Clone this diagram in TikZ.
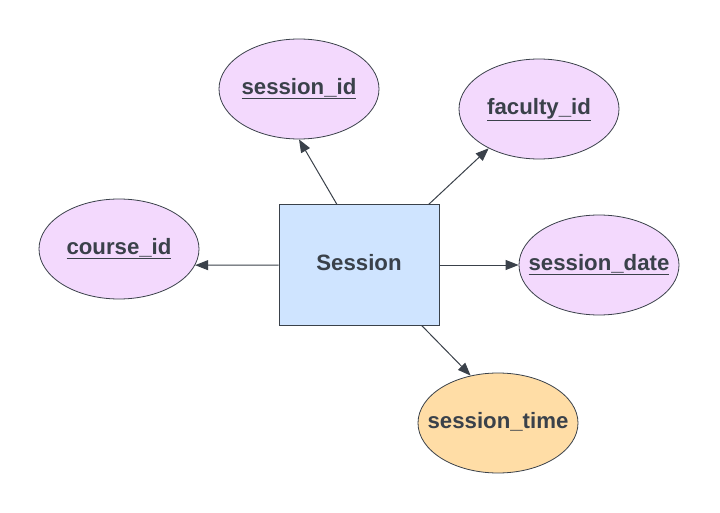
\documentclass[tikz,border=0pt]{standalone}
\usepackage{fontspec}
\setmainfont{Liberation Sans}
\usetikzlibrary{arrows.meta, shapes.geometric}

\definecolor{inkgray}{HTML}{3A414A}
\definecolor{attrpurple}{HTML}{F3D9FD}
\definecolor{entityblue}{HTML}{CFE4FF}
\definecolor{attrorange}{HTML}{FFDDA6}

% keep the ellipse at its fixed size whatever the label width
\newcommand{\attrtext}[1]{\makebox[0pt]{#1}}

\begin{document}
\begin{tikzpicture}[x=1bp, y=-1bp,
  every node/.style={text=inkgray, text depth=6bp,
    font=\fontsize{22.3}{26}\selectfont\bfseries},
  entity/.style={draw=inkgray, fill=entityblue, line width=1bp,
    minimum width=160bp, minimum height=120bp, inner sep=0pt},
  attr/.style={ellipse, draw=inkgray, fill=attrpurple, line width=0.8bp,
    minimum width=160bp, minimum height=100bp, inner sep=0pt},
  link/.style={draw=inkgray, line width=1bp, -{Triangle[length=13bp, width=10bp]}}]
  \useasboundingbox (0,0) rectangle (720,513);

  % entity and its attributes
  \node[entity] (sess) at (359,265) {Session};
  \node[attr] (sid) at (299,89) {\attrtext{\underline{session\_id}}};
  \node[attr] (fid) at (539,109) {\attrtext{\underline{faculty\_id}}};
  \node[attr] (cid) at (119,249) {\attrtext{\underline{course\_id}}};
  \node[attr] (sdate) at (599,265) {\attrtext{\underline{session\_date}}};
  \node[attr, fill=attrorange] (stime) at (498,423) {\attrtext{session\_time}};

  % links
  \foreach \from/\to in {110/sid.south, 41/fid.218, west/cid.-12,
                         east/sdate.west, -44/stime.120} {
    \draw[link] (sess.\from) -- (\to);
  }
\end{tikzpicture}
\end{document}
